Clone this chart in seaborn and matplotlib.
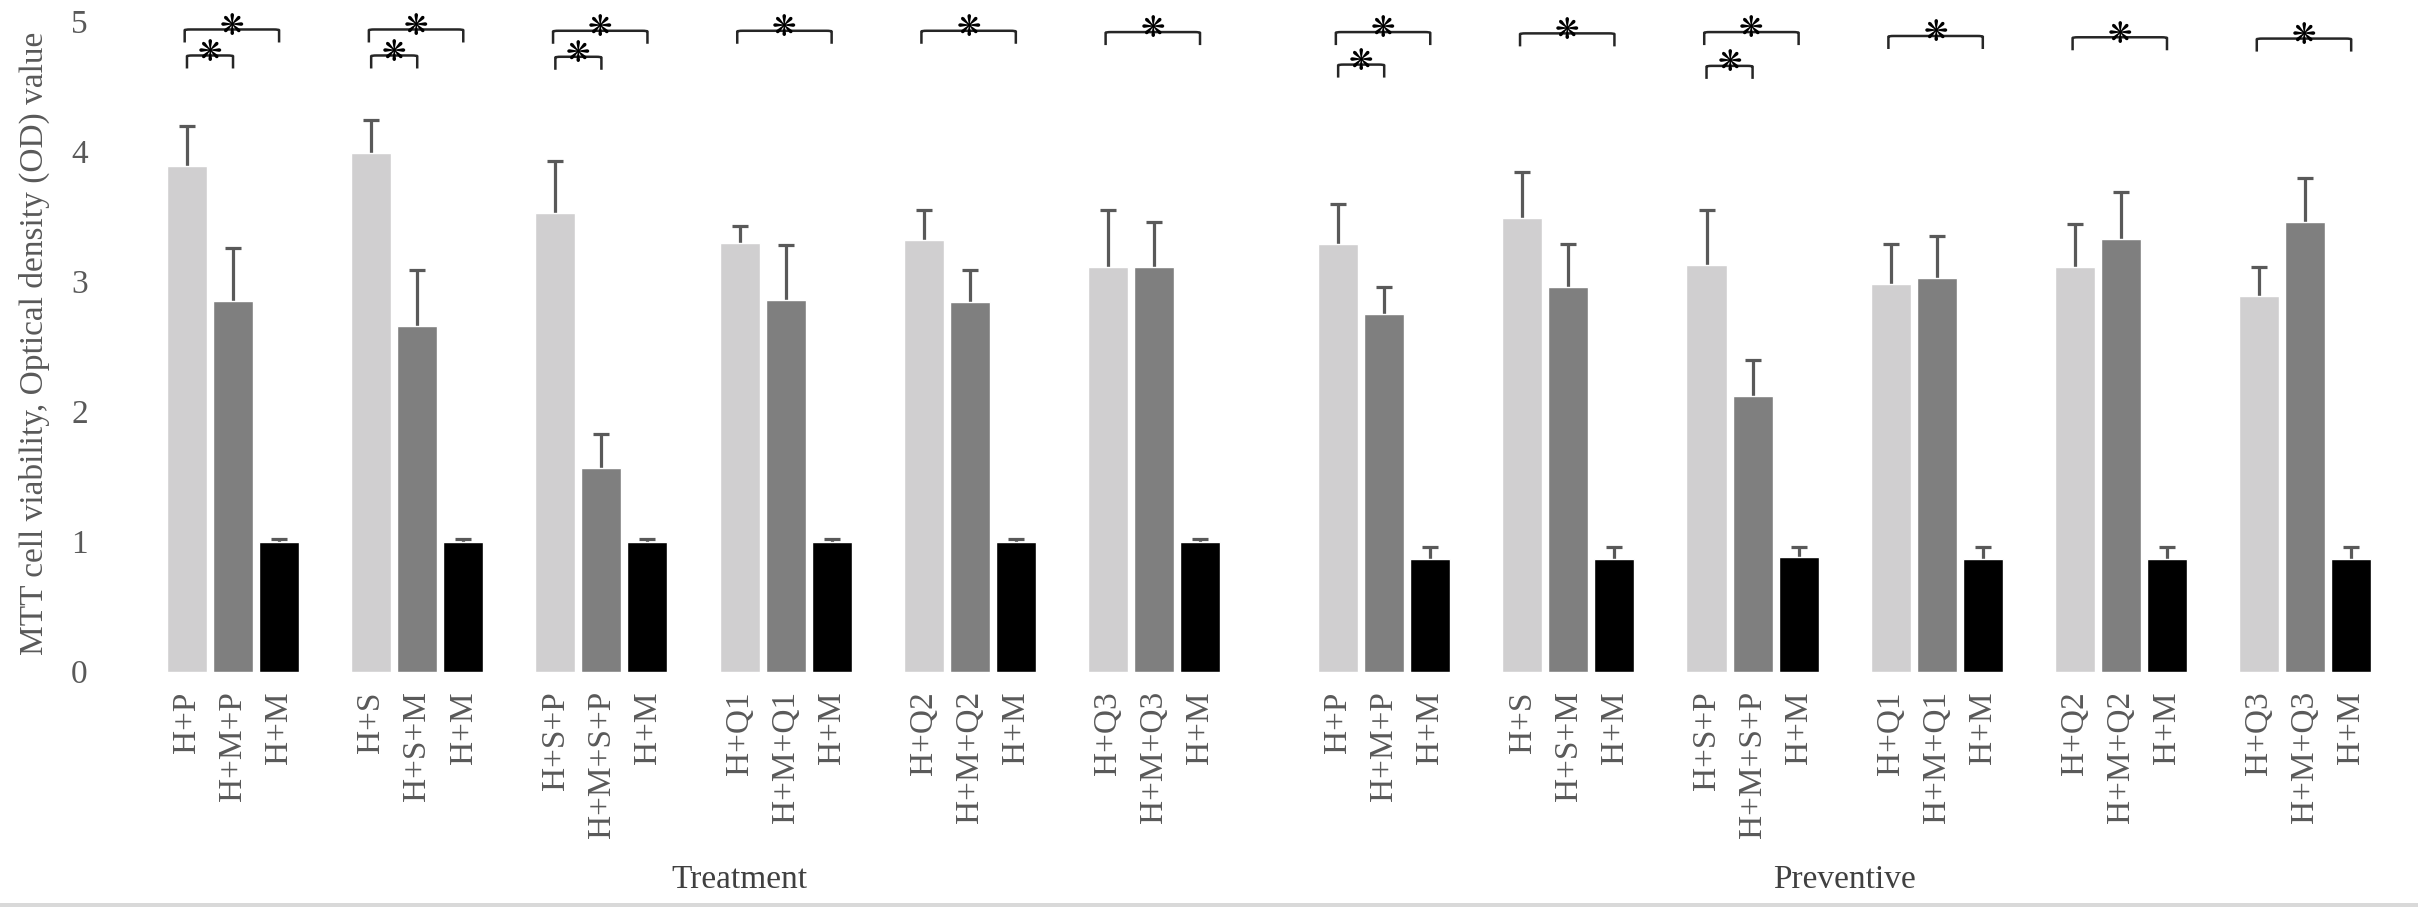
import numpy as np
import pandas as pd
import matplotlib
matplotlib.use('Agg')
import matplotlib.pyplot as plt
from matplotlib.path import Path
from matplotlib.patches import PathPatch, Rectangle
import seaborn as sns

# values
sections = ['Treatment', 'Preventive']
group_labels = [
    ['H+P', 'H+M+P', 'H+M'],
    ['H+S', 'H+S+M', 'H+M'],
    ['H+S+P', 'H+M+S+P', 'H+M'],
    ['H+Q1', 'H+M+Q1', 'H+M'],
    ['H+Q2', 'H+M+Q2', 'H+M'],
    ['H+Q3', 'H+M+Q3', 'H+M'],
]
kinds = ['drug', 'combo', 'control']

treat_drug = [3.89, 3.99, 3.53, 3.30, 3.32, 3.11]
treat_drug_err = [0.31, 0.25, 0.40, 0.13, 0.23, 0.44]
treat_combo = [2.85, 2.66, 1.565, 2.86, 2.84, 3.11]
treat_combo_err = [0.41, 0.43, 0.265, 0.42, 0.25, 0.35]
treat_ctrl = [1.00, 1.00, 1.00, 1.00, 1.00, 1.00]
treat_ctrl_err = [0.02, 0.02, 0.02, 0.02, 0.02, 0.02]

prev_drug = [3.29, 3.49, 3.13, 2.98, 3.11, 2.89]
prev_drug_err = [0.31, 0.35, 0.42, 0.31, 0.33, 0.22]
prev_combo = [2.75, 2.96, 2.12, 3.03, 3.33, 3.46]
prev_combo_err = [0.21, 0.33, 0.28, 0.32, 0.36, 0.34]
prev_ctrl = [0.87, 0.87, 0.88, 0.87, 0.87, 0.87]
prev_ctrl_err = [0.09, 0.09, 0.08, 0.09, 0.09, 0.09]

# significance brackets: (drug vs control) always, (drug vs combo) where marked
treat_small = [True, True, True, False, False, False]
prev_small = [True, False, True, False, False, False]
treat_big_y = [4.94, 4.94, 4.93, 4.93, 4.93, 4.92]
prev_big_y = [4.92, 4.91, 4.92, 4.89, 4.88, 4.87]
treat_small_y = [4.74, 4.74, 4.73, 0, 0, 0]
prev_small_y = [4.67, 0, 4.66, 0, 0, 0]

values = {'Treatment': [treat_drug, treat_combo, treat_ctrl],
          'Preventive': [prev_drug, prev_combo, prev_ctrl]}
errors = {'Treatment': [treat_drug_err, treat_combo_err, treat_ctrl_err],
          'Preventive': [prev_drug_err, prev_combo_err, prev_ctrl_err]}

rows = []
for s, sec in enumerate(sections):
    offset = 25 * s
    for g, labs in enumerate(group_labels):
        for k, kind in enumerate(kinds):
            rows.append({'section': sec, 'group': g, 'kind': kind,
                         'slot': offset + 4 * g + k, 'label': labs[k],
                         'value': values[sec][k][g], 'err': errors[sec][k][g]})
df = pd.DataFrame(rows)

sns.set_style('white')
plt.rcParams['font.family'] = ['Liberation Serif', 'DejaVu Serif']

fig = plt.figure(figsize=(24.18, 9.07), dpi=100)
ax = fig.add_axes([0.04549, 0.2594, 0.94706, 0.7167])

palette = {'drug': '#d0cfd0', 'combo': '#7f7f7f', 'control': '#000000'}
sns.barplot(data=df, x='slot', y='value', hue='kind', palette=palette,
            native_scale=True, dodge=False, width=0.87, errorbar=None,
            saturation=1, legend=False, ax=ax, zorder=2)

# upper error bars only: stem from the bar top, cap at the end
ax.errorbar(df['slot'], df['value'], yerr=[np.zeros(len(df)), df['err']],
            fmt='none', ecolor='#595959', elinewidth=2.3, capsize=0, zorder=1)
ax.plot(df['slot'], df['value'] + df['err'], ls='none', marker='_',
        markersize=11, mew=2.3, color='#595959', zorder=1)


def bracket(x1, x2, y, leg=0.1, r=0.12):
    rr = r * 0.05
    verts = [(x1, y - leg), (x1, y - rr), (x1, y), (x1 + r, y),
             (x2 - r, y), (x2, y), (x2, y - rr), (x2, y - leg)]
    codes = [Path.MOVETO, Path.LINETO, Path.CURVE3, Path.CURVE3,
             Path.LINETO, Path.CURVE3, Path.CURVE3, Path.LINETO]
    ax.add_patch(PathPatch(Path(verts, codes), fill=False, lw=1.8,
                           edgecolor='#262626', zorder=4))
    ax.text((x1 + x2) / 2, y + 0.02, '\u274b', ha='center', va='center',
            fontsize=21, color='black', family='DejaVu Sans', zorder=5)


for s, sec in enumerate(sections):
    small = treat_small if s == 0 else prev_small
    big_y = treat_big_y if s == 0 else prev_big_y
    small_y = treat_small_y if s == 0 else prev_small_y
    sub = df[df['section'] == sec]
    for g in range(len(group_labels)):
        slots = sub[sub['group'] == g]['slot'].to_numpy()
        bracket(slots[0] - 0.05, slots[2], big_y[g])
        if small[g]:
            bracket(slots[0], slots[1], small_y[g])

ax.set_xlim(-1.672, 48.06)
ax.set_ylim(0, 5)
ax.set_yticks([0, 1, 2, 3, 4, 5])
ax.set_xticks(df['slot'])
ax.set_xticklabels(df['label'], rotation=90, va='top')
ax.tick_params(axis='x', length=0, pad=14, labelsize=24, labelcolor='#595959')
ax.tick_params(axis='y', length=0, pad=16, labelsize=24, labelcolor='#595959')
ax.set_xlabel('')
ax.set_ylabel('')
sns.despine(ax=ax, left=True, bottom=True)

fig.text(34 / 2418, 1 - 343 / 907, 'MTT cell viability, Optical density (OD) value',
         rotation=90, ha='center', va='center', fontsize=24, color='#595959')

centers = [12, 36]
label_y = -(880 - 671.7) / (0.7167 * 907)
for sec, c in zip(sections, centers):
    ax.text(c, label_y, sec, transform=ax.get_xaxis_transform(), ha='center',
            va='center', fontsize=24, color='#404040')

fig.patches.append(Rectangle((0, 0), 1, 4 / 907, transform=fig.transFigure,
                             facecolor='#d9d9d9', edgecolor='none'))

fig.savefig('out.png', dpi=100)
